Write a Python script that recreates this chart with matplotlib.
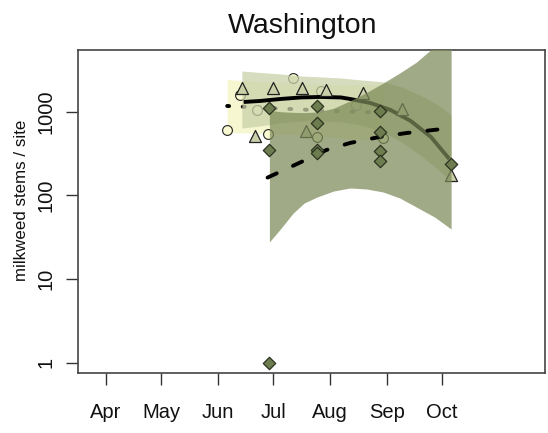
import matplotlib
matplotlib.use("Agg")
import matplotlib.pyplot as plt

plt.rcParams['font.family'] = ['Liberation Sans', 'DejaVu Sans']

# --- day of year for the first of each month shown on the x axis ---
month_days = [91, 121, 152, 182, 213, 244, 274]
month_labels = ["Apr", "May", "Jun", "Jul", "Aug", "Sep", "Oct"]

# --- survey counts (day of year, stems per site) ---
circle_day = [157, 164, 193, 173, 179, 208, 206, 227, 242]
circle_val = [604, 1584, 2547, 1048, 541, 1783, 503, 1203, 481]

triangle_day = [165, 182, 198, 211, 231, 252, 172, 200, 279]
triangle_val = [1936, 1936, 1936, 1815, 1687, 1068, 513, 588, 175]

diamond_day = [180, 180, 180, 206, 206, 206, 206, 240, 240, 240, 240, 279]
diamond_val = [1, 1117, 348, 1170, 739, 348, 321, 1028, 577, 342, 260, 237]

# --- fitted trends with confidence bands ---
circle_fit_day = [157, 166, 178, 190, 202, 214, 226, 236, 242]
circle_fit = [1170, 1145, 1110, 1080, 1050, 1020, 1000, 980, 965]
circle_hi = [2420, 2350, 2250, 2200, 2150, 2120, 2100, 2100, 2120]
circle_lo = [565, 560, 550, 535, 515, 495, 475, 460, 445]

triangle_fit_day = [166, 175, 186, 197, 208, 219, 224, 235, 246, 257, 268, 278]
triangle_fit = [1306, 1343, 1418, 1479, 1500, 1479, 1418, 1271, 1048, 774, 499, 272]
triangle_band_day = [165, 175, 186, 197, 208, 219, 230, 243, 252, 262, 271, 279]
triangle_hi = [3061, 2942, 2825, 2673, 2600, 2529, 2393, 2265, 1973, 1584, 1236, 914]
triangle_lo = [638, 675, 733, 774, 774, 754, 693, 556, 434, 304, 212, 145]

diamond_fit_day = [179, 195, 211, 224, 240, 255, 274]
diamond_fit = [163, 237, 348, 423, 499, 557, 620]
diamond_band_day = [180, 186, 193, 199, 206, 215, 224, 233, 242, 251, 260, 270, 279]
diamond_hi = [1040, 1000, 980, 975, 990, 1100, 1350, 1700, 2200, 2900, 3900, 6000, 9500]
diamond_lo = [27.7, 39.6, 61.5, 81.1, 95.5, 112.7, 122.4, 119.1, 109.6, 93.0, 72.6, 55.0, 39.6]

fig = plt.figure(figsize=(5.48, 4.33), dpi=100)
ax = fig.add_axes([0.1432, 0.1386, 0.8522, 0.7459])

# each site type: band, trend line, then points, so later bands tint earlier marks
ax.fill_between(circle_fit_day, circle_lo, circle_hi, color=(0.94, 0.94, 0.70),
                alpha=0.6, linewidth=0, zorder=1)
ax.plot(circle_fit_day, circle_fit, color="black", lw=2.8,
        linestyle=(0, (0.5, 3.5)), dash_capstyle="round", zorder=2)
ax.scatter(circle_day, circle_val, s=50, marker="o", facecolor="#fafad2",
           edgecolor="#222222", linewidth=0.8, zorder=3)

ax.fill_between(triangle_band_day, triangle_lo, triangle_hi,
                color=(0.79, 0.82, 0.66), alpha=0.75, linewidth=0, zorder=4)
ax.plot(triangle_fit_day, triangle_fit, color="black", lw=2.8,
        solid_capstyle="butt", zorder=5)
ax.scatter(triangle_day, triangle_val, s=75, marker="^", facecolor="#c9d0a8",
           edgecolor="#222222", linewidth=0.9, zorder=6)

ax.fill_between(diamond_band_day, diamond_lo, diamond_hi,
                color=(0.49, 0.54, 0.35), alpha=0.72, linewidth=0, zorder=7)
ax.plot(diamond_fit_day, diamond_fit, color="black", lw=2.8,
        linestyle=(0, (2.6, 4.6)), dash_capstyle="round", zorder=8)
ax.scatter(diamond_day, diamond_val, s=40, marker="D", facecolor="#6e7d4f",
           edgecolor="#2b3320", linewidth=0.9, zorder=9)

ax.set_yscale("log")
ax.set_xlim(76.0, 330.4)
ax.set_ylim(0.753, 5458)
ax.set_yticks([1, 10, 100, 1000])
ax.set_yticklabels(["1", "10", "100", "1000"], rotation=90, va="center")
ax.minorticks_off()
ax.set_xticks(month_days)
ax.set_xticklabels(month_labels)

for sp in ax.spines.values():
    sp.set_color("#444444")
    sp.set_linewidth(1.2)
ax.tick_params(axis="both", length=8.6, width=1.0, color="#333333",
               labelsize=14.5, labelcolor="#111111")
ax.tick_params(axis="x", pad=13)
ax.tick_params(axis="y", pad=7.7)

fig.text(303 / 548, 1 - 33 / 433, "Washington", ha="center", va="baseline",
         fontsize=20.5, color="#111111")
fig.text(22 / 548, 1 - 200 / 433, "milkweed stems / site", rotation=90,
         ha="center", va="center", fontsize=12.2, color="#111111")

fig.savefig("out.png", dpi=100)
